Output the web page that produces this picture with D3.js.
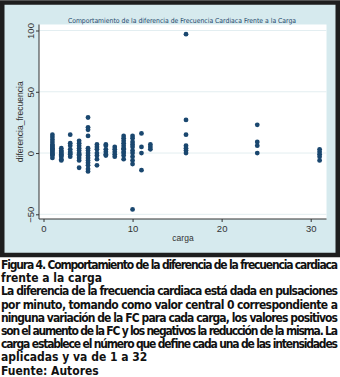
<!DOCTYPE html>
<html>
<head>
<meta charset="utf-8">
<script src="https://cdnjs.cloudflare.com/ajax/libs/d3/7.8.5/d3.min.js"></script>
<style>
  body { margin: 0; background: #ffffff; }
  svg { display: block; }
</style>
</head>
<body>
<script>
// carga values on x, and the differences (bpm) read for each carga
var cargas = [1, 2, 3, 4, 5, 6, 7, 8, 9, 10, 11, 12, 16, 24, 31];
var diferencias = [
  [15, 13, 11, 9, 7, 6, 5, 4, 3, 2, 1, 0, -1, -2, -4],
  [4, 2, 1, 0, -1, -2, -3, -5, -6],
  [15, 8, 6, 3, 1, 0, -1, -3],
  [10, 8, 6, 4, 2, 0, -1, -2, -4, -6, -12],
  [29, 21, 19, 14, 4, 2, 0, -2, -4, -6, -8, -10, -13, -15],
  [7, 5, 3, 0, -2, -5, -10],
  [7, 6, 3, 1, -1, -2],
  [5, 3, 1, -1, -3],
  [14, 12, 10, 8, 6, 4, 3, 1, 0, -2, -5],
  [14, 12, 9, 7, 5, 2, 0, -3, -6, -9, -46],
  [16, 5, 0, -14],
  [7, 5, 3],
  [97, 27, 15, 6, 4, 2, 0],
  [23, 9, 6, 0],
  [3, 1, -1, -3, -6]
];
var xTicks = [0, 10, 20, 30];
var yTicks = [-50, 0, 50, 100];
var chartTitle = "Comportamiento de la diferencia de Frecuencia Cardiaca Frente a la Carga";
var xTitle = "carga";
var yTitle = "diferencia_frecuencia";
var captionParagraphs = [
  ["Figura 4. Comportamiento de la diferencia de la frecuencia cardiaca",
   "frente a la carga"],
  ["La diferencia de la frecuencia cardiaca está dada en pulsaciones",
   "por minuto, tomando como valor central 0 correspondiente a",
   "ninguna variación de la FC para cada carga, los valores positivos",
   "son el aumento de la FC y los negativos la reducción de la misma. La",
   "carga establece el número que define cada una de las intensidades",
   "aplicadas y va de 1 a 32"],
  ["Fuente: Autores"]
];

var width = 340, height = 377;
var plot = {left: 39, right: 326.5, top: 24.5, bottom: 219};

var svg = d3.select("body")
            .append("svg")
            .attr("width", width)
            .attr("height", height);

// stata style graph region with its dark frame
svg.append("rect")
   .attr("x", 2.25).attr("y", 2.5)
   .attr("width", 335.5).attr("height", 252.5)
   .attr("fill", "#d6eaee")
   .attr("stroke", "#1e1e1e")
   .attr("stroke-width", 4.5);

svg.append("rect")
   .attr("x", plot.left).attr("y", plot.top)
   .attr("width", plot.right - plot.left)
   .attr("height", plot.bottom - plot.top)
   .attr("fill", "#ffffff");

var xScale = d3.scaleLinear().domain([0, 30]).range([43.5, 310.7]);
var yScale = d3.scaleLinear().domain([-50, 100]).range([214.3, 30.5]);

// grid
svg.append("g")
   .selectAll("line")
   .data(yTicks)
   .enter()
   .append("line")
   .attr("x1", plot.left)
   .attr("x2", plot.right)
   .attr("y1", function(d){ return yScale(d); })
   .attr("y2", function(d){ return yScale(d); })
   .attr("stroke", "#e3eef1")
   .attr("stroke-width", 1);

var xAxis = d3.axisBottom(xScale).tickValues(xTicks).tickSize(3).tickSizeOuter(0);
var yAxis = d3.axisLeft(yScale).tickValues(yTicks).tickSize(3).tickSizeOuter(0);

var xAxisGroup = svg.append("g")
                    .attr("transform", "translate(0," + plot.bottom + ")")
                    .call(xAxis);
xAxisGroup.select(".domain").remove();
xAxisGroup.append("line")
          .attr("x1", plot.left).attr("x2", plot.right)
          .attr("stroke", "#333");

var yAxisGroup = svg.append("g")
                    .attr("transform", "translate(" + plot.left + ",0)")
                    .call(yAxis);
yAxisGroup.select(".domain").remove();
yAxisGroup.append("line")
          .attr("y1", plot.top).attr("y2", plot.bottom)
          .attr("stroke", "#333");

svg.selectAll(".tick line").attr("stroke", "#333");
svg.selectAll(".tick text")
   .attr("fill", "#333")
   .style("font-family", "'Liberation Sans', Arial, sans-serif")
   .style("font-size", "9.5px");

yAxisGroup.selectAll(".tick text")
          .attr("transform", "rotate(-90)")
          .attr("x", 0)
          .attr("y", -5.5)
          .attr("dy", 0)
          .attr("text-anchor", "middle");

// titles
svg.append("text")
   .attr("x", 182).attr("y", 22.5)
   .attr("text-anchor", "middle")
   .attr("fill", "#24476b")
   .style("font-family", "'Liberation Sans Narrow', 'DejaVu Sans Condensed', sans-serif")
   .style("font-size", "6.8px")
   .text(chartTitle);

svg.append("text")
   .attr("x", 183).attr("y", 241)
   .attr("text-anchor", "middle")
   .attr("fill", "#333")
   .style("font-family", "'Liberation Sans', Arial, sans-serif")
   .style("font-size", "8.5px")
   .text(xTitle);

svg.append("text")
   .attr("transform", "translate(23," + ((plot.top + plot.bottom) / 2) + ") rotate(-90)")
   .attr("text-anchor", "middle")
   .attr("fill", "#333")
   .style("font-family", "'Liberation Sans', Arial, sans-serif")
   .style("font-size", "8.5px")
   .text(yTitle);

// points
var points = [];
cargas.forEach(function(c, i){
    diferencias[i].forEach(function(v){ points.push({x: c, y: v}); });
});

svg.append("g")
   .selectAll("circle")
   .data(points)
   .enter()
   .append("circle")
   .attr("cx", function(d){ return xScale(d.x); })
   .attr("cy", function(d){ return yScale(d.y); })
   .attr("r", 2.4)
   .attr("fill", "#1a476f");

// caption below the graph, justified except last line of each paragraph
var lineHeight = 13.2;
var lineIndex = 0;
var caption = svg.append("g")
                 .style("font-family", "'Liberation Sans Narrow', 'DejaVu Sans Condensed', sans-serif")
                 .style("font-weight", "bold")
                 .style("font-size", "12px")
                 .attr("fill", "#111");

captionParagraphs.forEach(function(par){
    par.forEach(function(line, j){
        var t = caption.append("text")
                       .attr("x", 1)
                       .attr("y", 269 + lineIndex * lineHeight)
                       .text(line);
        if (j < par.length - 1) {
            t.attr("textLength", 337).attr("lengthAdjust", "spacing");
        }
        lineIndex++;
    });
});
</script>
</body>
</html>
